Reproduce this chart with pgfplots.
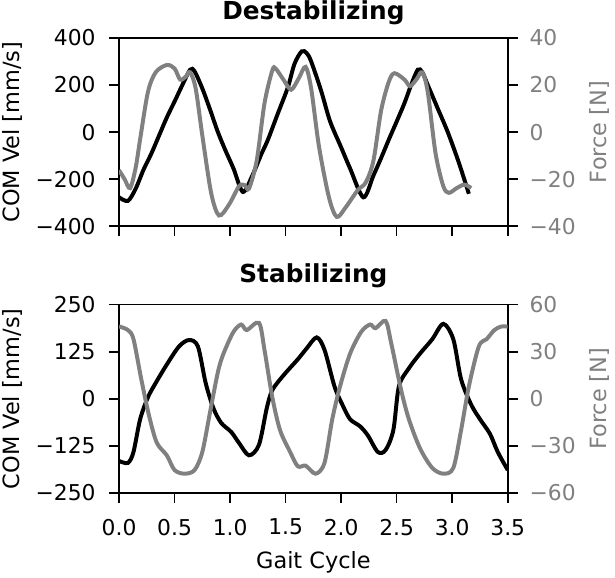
\documentclass[border=0pt]{standalone}
\usepackage{fontspec}
\setmainfont{DejaVu Sans}
\usepackage{pgfplots}
\pgfplotsset{compat=1.18}
\definecolor{frc}{RGB}{128,128,128}

\pgfplotsset{
  every axis title shift=0pt,
  base/.style={
    scale only axis, width=196pt, height=95pt,
    xmin=0, xmax=3.5,
    xtick={0,0.5,1,1.5,2,2.5,3,3.5},
    tick align=outside, major tick length=5pt,
    tick style={line width=0.8pt, black},
    axis line style={line width=0.8pt},
    ticklabel style={font=\fontsize{11}{12}\selectfont},
    xticklabel style={yshift=-4.5pt},
    label style={font=\fontsize{11.3}{13}\selectfont},
    title style={font=\fontsize{12.5}{14}\selectfont\bfseries,
      anchor=base, inner sep=0.5pt},
  },
  left/.style={base, xtick pos=bottom, ytick pos=left,
    yticklabel style={xshift=-3.3pt},
    ylabel={COM Vel [mm/s]},
    ylabel style={at={(axis description cs:-0.2755,0.5)}, anchor=center,
      inner sep=1pt},
    xlabel style={at={(axis description cs:0.5,-0.37)}, anchor=center,
      inner sep=2pt}},
  right/.style={base, axis x line=none, axis y line*=right, ytick pos=right,
    ylabel={Force [N]},
    ylabel style={frc, at={(axis description cs:1.235,0.5)}, anchor=center,
      inner sep=3pt},
    yticklabel style={frc, xshift=2.5pt}},
  vel/.style={black, line width=2pt, smooth, tension=0.5},
  frcline/.style={frc, line width=2pt, smooth, tension=0.5},
}

\begin{document}
\begin{tikzpicture}
% top panel: destabilizing
\begin{axis}[left, title={Destabilizing},
  title style={at={(axis description cs:0.5,1.096)}},
  xticklabels={},
  ymin=-400, ymax=400, ytick={-400,-200,0,200,400},
  yticklabels={−400,−200,0,200,400}]
\addplot[vel] coordinates {
(0,-277) (0.08,-292) (0.15,-240) (0.22,-160) (0.29,-92) (0.36,-15) (0.43,62)
(0.5,130) (0.57,200) (0.64,265) (0.68,258) (0.75,185) (0.82,95) (0.89,0)
(0.96,-80) (1.03,-154) (1.115,-254) (1.2,-185) (1.28,-95) (1.34,-33) (1.43,79)
(1.52,190) (1.58,290) (1.645,343) (1.69,335) (1.73,300) (1.82,175) (1.9,46)
(2.0,-65) (2.08,-154) (2.2,-277) (2.29,-185) (2.36,-110) (2.43,-31) (2.5,45)
(2.57,123) (2.63,200) (2.69,265) (2.73,255) (2.78,200) (2.87,100) (2.96,0)
(3.06,-130) (3.15,-262)
};
\end{axis}
\begin{axis}[right,
  ymin=-40, ymax=40, ytick={-40,-20,0,20,40},
  yticklabels={−40,−20,0,20,40}]
\addplot[frcline] coordinates {
(0,-16.2) (0.05,-20) (0.1,-23.8) (0.15,-15) (0.19,-3) (0.26,17) (0.33,25.4)
(0.43,28.5) (0.5,27) (0.55,22.3) (0.6,23.5) (0.64,25.4) (0.69,18.5) (0.75,-1.5)
(0.83,-26) (0.9,-35.4) (0.99,-30.8) (1.08,-23) (1.13,-22.5) (1.17,-24)
(1.24,-12) (1.31,12.3) (1.38,26.2) (1.41,27) (1.48,22.3) (1.55,18) (1.62,23)
(1.68,27.7) (1.73,18.5) (1.8,-6) (1.89,-27.7) (1.96,-36) (2.04,-32)
(2.15,-24.6) (2.22,-21.5) (2.29,-12.3) (2.36,9.2) (2.43,21.5) (2.48,25)
(2.57,22.3) (2.62,19.5) (2.68,22.5) (2.73,25.4) (2.78,17) (2.85,-9) (2.92,-23)
(2.97,-25.8) (3.04,-23.8) (3.11,-22.3) (3.17,-23.8)
};
\end{axis}

% bottom panel: stabilizing
\begin{axis}[left, yshift=-134.5pt, title={Stabilizing},
  title style={at={(axis description cs:0.5,1.12)}},
  xlabel={Gait Cycle},
  xticklabels={0.0,0.5,1.0,1.5,2.0,2.5,3.0,3.5},
  ymin=-250, ymax=250, ytick={-250,-125,0,125,250},
  yticklabels={−250,−125,0,125,250}]
\addplot[vel] coordinates {
(0,-165) (0.08,-170) (0.13,-141) (0.19,-54) (0.26,4) (0.33,42) (0.43,91)
(0.54,139) (0.63,156) (0.71,139) (0.78,42) (0.85,-25) (0.92,-64) (1.01,-88)
(1.08,-117) (1.17,-150) (1.26,-122) (1.33,-25) (1.38,23) (1.48,62) (1.61,105)
(1.69,134) (1.78,163) (1.85,130) (1.94,33) (2.01,-15) (2.08,-54) (2.17,-73)
(2.24,-97) (2.33,-141) (2.4,-136) (2.47,-83) (2.52,33) (2.61,81) (2.71,120)
(2.82,158) (2.92,199) (3.01,158) (3.08,52) (3.17,-15) (3.25,-54) (3.34,-93)
(3.41,-141) (3.5,-189)
};
\end{axis}
\begin{axis}[right, yshift=-134.5pt,
  ymin=-60, ymax=60, ytick={-60,-30,0,30,60},
  yticklabels={−60,−30,0,30,60}]
\addplot[frcline] coordinates {
(0,46.1) (0.08,43.8) (0.13,38) (0.2,12.5) (0.27,-10.7) (0.34,-28) (0.43,-36)
(0.5,-45.4) (0.59,-47.7) (0.68,-45.4) (0.75,-33.8) (0.82,-8.3) (0.89,17)
(0.94,28.7) (1.03,42.6) (1.1,47.3) (1.15,43.8) (1.26,48.4) (1.31,31) (1.38,1)
(1.45,-20) (1.54,-33.8) (1.61,-43) (1.68,-42.6) (1.77,-47.7) (1.85,-40.8)
(1.92,-13) (1.99,7.9) (2.08,28.7) (2.18,42.6) (2.26,47.3) (2.31,45) (2.4,49.6)
(2.45,35.7) (2.54,5.6) (2.61,-13) (2.71,-31.5) (2.82,-44) (2.92,-47.7)
(3.01,-44) (3.08,-20) (3.15,7.9) (3.24,33.4) (3.31,38) (3.38,43.8) (3.44,46)
(3.5,46)
};
\end{axis}
\end{tikzpicture}
\end{document}
